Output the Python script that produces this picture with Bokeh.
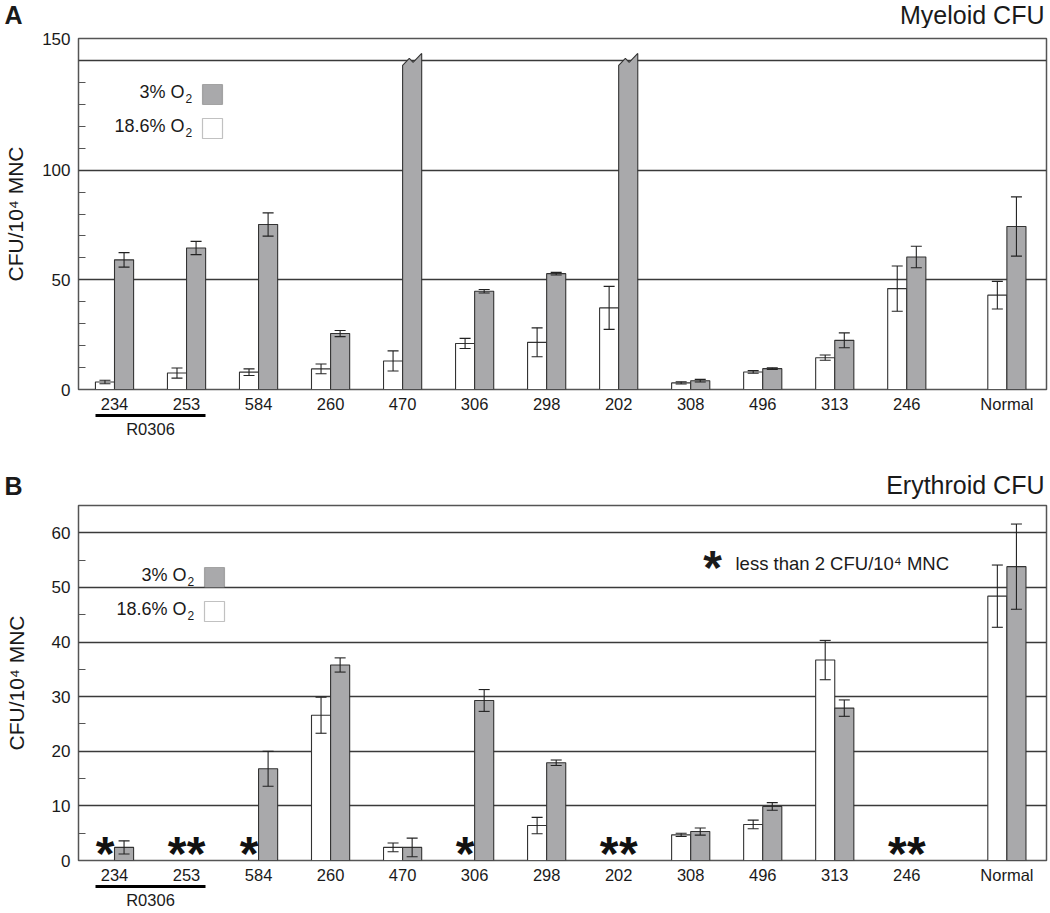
import numpy as np
from bokeh.plotting import figure
from bokeh.models import (FixedTicker, LinearAxis, Whisker, TeeHead, ColumnDataSource,
                          Label, BoxAnnotation, Range1d)
from bokeh.layouts import column
from bokeh.embed import file_html
from bokeh.resources import INLINE
from bokeh.core.properties import value

# ---------------- data ----------------
samples = ["234", "253", "584", "260", "470", "306", "298", "202", "308", "496", "313", "246", "Normal"]
group_label = "R0306"
group_members = ["234", "253"]

# Panel A: Myeloid CFU per 10^4 MNC (white = 18.6% O2, gray = 3% O2)
mye_white = [3.4, 7.5, 7.9, 9.4, 13.0, 21.0, 21.5, 37.2, 3.0, 8.0, 14.5, 46.0, 43.0]
mye_white_err = [0.8, 2.3, 1.5, 2.2, 4.6, 2.3, 6.6, 9.8, 0.5, 0.6, 1.2, 10.3, 6.3]
mye_gray = [59.1, 64.5, 75.2, 25.5, None, 44.8, 52.8, None, 4.0, 9.5, 22.4, 60.4, 74.3]
mye_gray_err = [3.3, 3.0, 5.3, 1.4, None, 0.8, 0.6, None, 0.6, 0.4, 3.4, 4.9, 13.5]
mye_offscale = ["470", "202"]   # gray bars beyond the axis break
mye_break = 150

# Panel B: Erythroid CFU per 10^4 MNC (None = "*" less than 2 CFU)
ery_white = [None, None, None, 26.6, 2.4, None, 6.4, None, 4.7, 6.6, 36.7, None, 48.4]
ery_white_err = [None, None, None, 3.3, 0.8, None, 1.5, None, 0.3, 0.8, 3.6, None, 5.7]
ery_gray = [2.4, None, 16.8, 35.8, 2.4, 29.3, 17.9, None, 5.3, 9.9, 27.9, None, 53.8]
ery_gray_err = [1.2, None, 3.2, 1.3, 1.7, 2.0, 0.5, None, 0.65, 0.7, 1.5, None, 7.8]

# ---------------- style ----------------
FONT = "Liberation Sans"
TXT = "#1a1a1a"
GRAY = "#a9a9ab"
EDGE = "#333333"
BW = 0.265
normal_gap = 0.39
xpos = [float(i) for i in range(len(samples) - 1)] + [float(len(samples) - 2) + 1 + normal_gap]
W = 1050
FRAME_L, FRAME_R = 78, 1046


def lab(p, x, y, text, size, align="left", baseline="middle", style="normal", units="canvas"):
    p.add_layout(Label(x=x, y=y, x_units=units, y_units=units, text=text,
                       text_font=FONT, text_font_size=f"{size}px", text_align=align,
                       text_baseline=baseline, text_font_style=style, text_color=TXT))


def header(h, top, letter, title, ty):
    # frame is aligned with the panel below (78..1046); x data == page pixels
    p = figure(width=W, height=h, output_backend="svg", toolbar_location=None,
               x_axis_type=None, x_range=Range1d(FRAME_L, FRAME_R), y_range=Range1d(0, h - top),
               min_border_left=FRAME_L, min_border_right=W - FRAME_R, min_border_top=top,
               min_border_bottom=0)
    p.outline_line_color = None
    p.grid.visible = False
    ya = p.yaxis[0]
    ya.ticker = FixedTicker(ticks=[])
    ya.major_label_text_font_size = "0px"
    ya.major_tick_out = 0
    ya.minor_tick_out = 0
    ya.major_tick_in = 0
    ya.minor_tick_in = 0
    ya.axis_line_color = None
    ya.axis_label = letter
    ya.axis_label_orientation = "horizontal"
    ya.axis_label_text_font = FONT
    ya.axis_label_text_font_size = "25px"
    ya.axis_label_text_font_style = "bold"
    ya.axis_label_text_color = TXT
    ya.axis_label_standoff = 56
    lab(p, 1044, ty, title, 25, align="right", baseline="middle", units="data")
    return p


def legend(p, y1, y2, sq_x):
    for yc, txt, fill in [(y1, "3% O", GRAY), (y2, "18.6% O", "white")]:
        lab(p, sq_x - 18, yc, txt, 18, align="right")
        lab(p, sq_x - 17, yc + 7, "2", 12, align="left")
        p.add_layout(BoxAnnotation(left=sq_x, right=sq_x + 20, top=yc - 7, bottom=yc + 13,
                                   left_units="canvas", right_units="canvas",
                                   top_units="canvas", bottom_units="canvas",
                                   fill_color=fill, fill_alpha=1, line_color=EDGE, line_width=1.2,
                                   level="overlay"))


def make_panel(height, top_border, ymax, yticks, yminor, ygrid, overrides, label_standoff,
               white, werr, gray, gerr):
    p = figure(width=W, height=height, output_backend="svg", toolbar_location=None,
               x_range=Range1d(-0.5, xpos[-1] + 0.55), y_range=Range1d(0, ymax),
               min_border_left=FRAME_L, min_border_right=W - FRAME_R, min_border_top=top_border,
               min_border_bottom=10)
    p.outline_line_color = "#555555"
    p.outline_line_width = 1.5
    p.xgrid.visible = False
    p.ygrid.ticker = FixedTicker(ticks=ygrid)
    p.ygrid.grid_line_color = "#3a3a3a"
    p.ygrid.grid_line_width = 1.3

    ya = p.yaxis[0]
    ya.ticker = FixedTicker(ticks=yticks, minor_ticks=yminor)
    ya.major_label_overrides = overrides
    ya.axis_line_color = None
    ya.major_tick_line_color = None
    ya.major_tick_out = 0
    ya.minor_tick_in = 7
    ya.minor_tick_out = 0
    ya.minor_tick_line_color = "#555555"
    ya.major_label_text_font = FONT
    ya.major_label_text_font_size = "17px"
    ya.major_label_text_color = TXT
    ya.major_label_standoff = 8
    ya.axis_label = "CFU/10\u2074 MNC"
    ya.axis_label_text_font = FONT
    ya.axis_label_text_font_size = "21px"
    ya.axis_label_text_font_style = "normal"
    ya.axis_label_text_color = TXT
    ya.axis_label_standoff = label_standoff

    xa = p.xaxis[0]
    xa.ticker = FixedTicker(ticks=xpos)
    xa.major_label_overrides = {float(x): s for x, s in zip(xpos, samples)}
    xa.axis_line_color = None
    xa.major_tick_line_color = None
    xa.minor_tick_line_color = None
    xa.major_tick_out = 0
    xa.minor_tick_out = 0
    xa.major_label_text_font = FONT
    xa.major_label_text_font_size = "16.5px"
    xa.major_label_text_color = TXT
    xa.major_label_standoff = 5

    # group bracket axis (R0306)
    gi = [samples.index(m) for m in group_members]
    g0, g1 = xpos[min(gi)] - BW, xpos[max(gi)] + BW
    gc = float(np.mean([xpos[i] for i in gi]))
    ga = LinearAxis(ticker=FixedTicker(ticks=[gc]), major_label_overrides={gc: group_label},
                    bounds=(g0, g1), axis_line_width=3, axis_line_color="black",
                    major_tick_line_color=None, minor_tick_line_color=None,
                    major_tick_out=0, minor_tick_out=0, major_tick_in=0, minor_tick_in=0,
                    major_label_standoff=4, major_label_text_font=FONT,
                    major_label_text_font_size="16.5px", major_label_text_color=TXT)
    p.add_layout(ga, "below")

    # bars
    for vals, errs, off, fill in [(white, werr, -BW / 2, "white"), (gray, gerr, BW / 2, GRAY)]:
        xs = [xpos[i] + off for i, v in enumerate(vals) if v is not None]
        ts = [v for v in vals if v is not None]
        p.vbar(x=xs, top=ts, bottom=0, width=BW, fill_color=fill, line_color=EDGE, line_width=1.1)
        ok = [i for i, v in enumerate(vals) if v is not None and errs[i] is not None]
        src = ColumnDataSource(dict(x=[xpos[i] + off for i in ok],
                                    u=[vals[i] + errs[i] for i in ok],
                                    l=[vals[i] - errs[i] for i in ok]))
        p.add_layout(Whisker(source=src, base="x", upper="u", lower="l", dimension="height",
                             line_color="#222222", line_width=1.1, level="overlay",
                             upper_head=TeeHead(size=11, line_color="#222222", line_width=1.1),
                             lower_head=TeeHead(size=11, line_color="#222222", line_width=1.1)))
    return p


# ---------------- Panel A ----------------
h1 = header(28, 0, "A", "Myeloid CFU", 14)
p1 = make_panel(412, 10, 160, [0, 50, 100, 160], [10, 20, 30, 40, 60, 70, 80, 90, 110, 120, 130, 140],
                [50, 100, 150], {160: "150"}, 12, mye_white, mye_white_err, mye_gray, mye_gray_err)
pxs, pys = [], []
for s in mye_offscale:
    c = xpos[samples.index(s)]
    b = mye_break
    pxs.append([c, c, c + 0.35 * BW, c + 0.55 * BW, c + BW, c + BW])
    pys.append([0, b - 2.2, b + 0.9, b - 0.9, b + 3.2, 0])
p1.patches(pxs, pys, fill_color=GRAY, line_color=EDGE, line_width=1.1)
legend(p1, 63, 97, 202)

# ---------------- Panel B ----------------
h2 = header(61, 30, "B", "Erythroid CFU", 16.5)
p2 = make_panel(410, 4, 65, [0, 10, 20, 30, 40, 50, 60], [5, 15, 25, 35, 45, 55],
                [10, 20, 30, 40, 50, 60], {}, 21, ery_white, ery_white_err, ery_gray, ery_gray_err)
sx = []
for vals, off in [(ery_white, -BW / 2), (ery_gray, BW / 2)]:
    for i, v in enumerate(vals):
        if v is None:
            sx.append(xpos[i] + off)
p2.text(x=sx, y=[0] * len(sx), text=["*"] * len(sx), text_font=value(FONT),
        text_font_style="bold", text_font_size="48px", text_align="center",
        text_baseline="alphabetic", y_offset=-7, text_color="#111111")
legend(p2, 73, 107, 204)
lab(p2, 712, 66, "*", 48, align="center", baseline="alphabetic", style="bold")
lab(p2, 735, 62, "less than 2 CFU/10\u2074 MNC", 18.5)

layout = column(h1, p1, h2, p2, spacing=0)
open("out.html", "w").write(file_html(layout, INLINE))
